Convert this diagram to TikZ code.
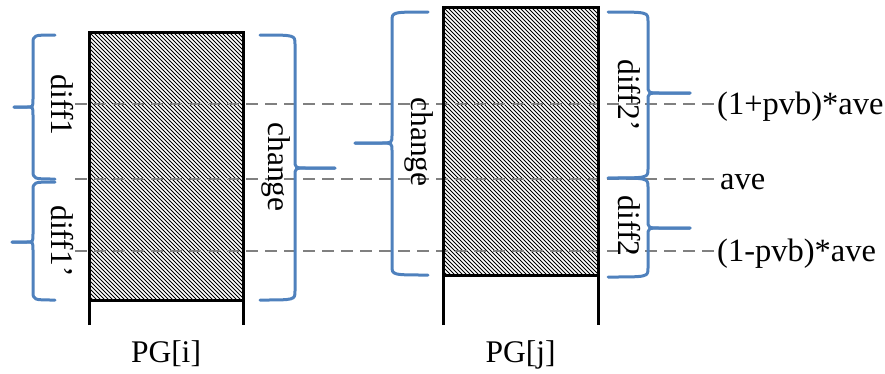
\documentclass[tikz,border=0pt]{standalone}
\usepackage{fontspec}
\setmainfont{Liberation Serif}
\definecolor{braceblue}{RGB}{79,129,189}
\definecolor{dashgray}{RGB}{128,128,128}
\newcommand\drawbrace[6]{% end x, spine x, tip x, y top, y bottom, y tip
  \draw[bracestyle] (#1,#4) .. controls (#2,#4) and (#2,#4) .. (#2,{#4+9}) -- (#2,{#6-8})
     .. controls (#2,#6) and (#2,#6) .. ({#2+0.3*(#3-#2)},#6) -- (#3,#6);
  \draw[bracestyle] (#1,#5) .. controls (#2,#5) and (#2,#5) .. (#2,{#5-9}) -- (#2,{#6+8})
     .. controls (#2,#6) and (#2,#6) .. ({#2+0.3*(#3-#2)},#6) -- (#3,#6);
}
\begin{document}
\begin{tikzpicture}[x=1pt,y=-1pt,
  bracestyle/.style={draw=braceblue, line width=3pt, line cap=round, line join=round},
  colborder/.style={draw=black, line width=3pt},
  hatchline/.style={black, line width=0.8pt},
  dashline/.style={draw=dashgray, line width=2.8pt, dash pattern=on 12pt off 7pt},
  lab/.style={font=\fontsize{31.5}{37}\selectfont, inner sep=0pt},
  rlab/.style={font=\fontsize{32.5}{38}\selectfont, inner sep=0pt, anchor=base west},
  vlab/.style={lab, rotate=-90}]
\useasboundingbox (0,0) rectangle (885,373);

% hatching
\begin{scope}
  \clip (89,32) rectangle (243,300);
  \foreach \a in {-280,-276,...,160} \draw[hatchline] ({89+\a},32) -- ++(280,280);
\end{scope}
\begin{scope}
  \clip (443,7) rectangle (598,275);
  \foreach \a in {-280,-276,...,160} \draw[hatchline] ({443+\a},7) -- ++(280,280);
\end{scope}

% dashed level lines
\coordinate (up0) at (75,104);  \coordinate (up1) at (716,104);
\coordinate (av0) at (75,179);  \coordinate (av1) at (716,179);
\coordinate (lo0) at (75,251);  \coordinate (lo1) at (716,251);
\draw[dashline] (up0) -- (up1);
\draw[dashline] (av0) -- (av1);
\draw[dashline] (lo0) -- (lo1);

% columns
\draw[colborder] (89,325) -- (89,32) -- (243,32) -- (243,325);
\draw[colborder] (89,300) -- (243,300);
\draw[colborder] (443,325) -- (443,7) -- (598,7) -- (598,325);
\draw[colborder] (443,275) -- (598,275);

% braces
\drawbrace{55}{33}{14}{35}{179}{107}
\drawbrace{55}{33}{12}{182}{300}{242}
\drawbrace{260}{295}{335}{35}{300}{168}
\drawbrace{428}{392}{355}{12}{275}{143}
\drawbrace{608}{648}{690}{12}{178}{93}
\drawbrace{608}{648}{690}{178}{277}{228}

% labels
\node[vlab] (d1) at (62,105) {diff1};
\node[vlab] (d1p) at (62,241) {diff1’};
\node[vlab] (chl) at (276,167) {change};
\node[vlab] (chr) at (419,142) {change};
\node[vlab] (d2p) at (629,95) {diff2’};
\node[vlab] (d2) at (629,226) {diff2};
\node[rlab] (lup) at (717,114) {(1+pvb)*ave};
\node[rlab] (lav) at (720,189) {ave};
\node[rlab] (llo) at (717,261) {(1-pvb)*ave};
\node[lab, anchor=base] (pgi) at (166,362) {PG[i]};
\node[lab, anchor=base] (pgj) at (520.5,362) {PG[j]};
\end{tikzpicture}
\end{document}
